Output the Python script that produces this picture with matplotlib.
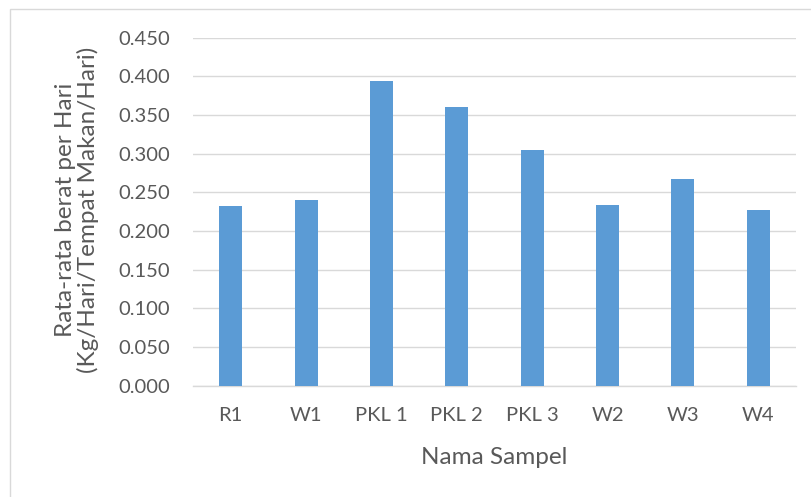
import matplotlib
matplotlib.use("Agg")
import matplotlib.pyplot as plt
from matplotlib.patches import Rectangle

categories = ["R1", "W1", "PKL 1", "PKL 2", "PKL 3", "W2", "W3", "W4"]
values = [0.233, 0.240, 0.394, 0.360, 0.305, 0.234, 0.267, 0.227]
yticks = [0.0, 0.05, 0.10, 0.15, 0.20, 0.25, 0.30, 0.35, 0.40, 0.45]
ytick_labels = ["0.000", "0.050", "0.100", "0.150", "0.200", "0.250", "0.300", "0.350", "0.400", "0.450"]

plt.rcParams['font.family'] = ['Lato', 'DejaVu Sans']
text_color = "#595959"
grid_color = "#d9d9d9"
bar_color = "#5b9bd5"

W, H = 812, 497
fig = plt.figure(figsize=(W/100, H/100), dpi=100)
fig.patch.set_facecolor("white")
# outer chart border (only left and top are visible in the crop)
fig.patches.append(Rectangle((10/W, -0.5), 1.5, 1.5 - 9/H, transform=fig.transFigure,
                             fill=False, edgecolor=grid_color, linewidth=1.0, zorder=0))

ax = fig.add_axes([193/W, 1 - 385.7/H, (796-193)/W, (385.7-37.7)/H])
x = range(len(categories))
ax.bar(x, values, width=0.305, color=bar_color, zorder=3)
ax.set_xlim(-0.5, len(categories) - 0.5)
ax.set_ylim(0, 0.45)
ax.set_yticks(yticks)
ax.set_yticklabels(ytick_labels)
ax.set_xticks(list(x))
ax.set_xticklabels(categories)
ax.yaxis.grid(True, color=grid_color, linewidth=1.0, zorder=0)
ax.set_axisbelow(True)
for s in ["top", "right", "left"]:
    ax.spines[s].set_visible(False)
ax.spines["bottom"].set_color(grid_color)
ax.spines["bottom"].set_linewidth(1.0)
ax.tick_params(axis="both", length=0, labelsize=14.5, colors=text_color)
ax.tick_params(axis="y", pad=16.5)
ax.tick_params(axis="x", pad=15.5)

fig.text(494.5/W, 1 - 458/H, "Nama Sampel", fontsize=17.5, color=text_color,
         ha="center", va="center")
fig.text(77/W, 1 - 210/H, "Rata-rata berat per Hari\n(Kg/Hari/Tempat Makan/Hari)",
         fontsize=17.5, color=text_color, rotation=90, ha="center", va="center",
         linespacing=1.1, multialignment="center")

fig.savefig("out.png", dpi=100, facecolor="white")
